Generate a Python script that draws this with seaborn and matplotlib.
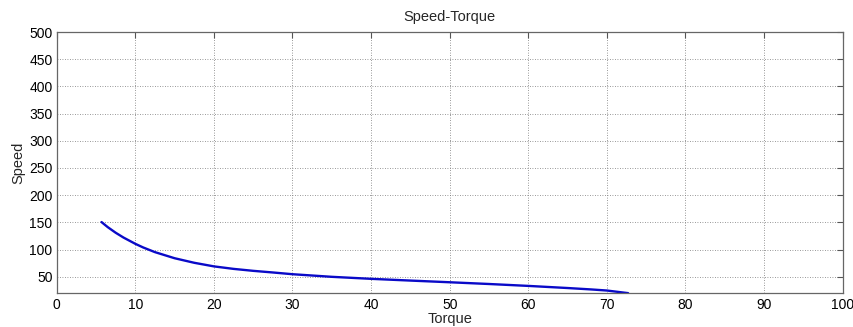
import matplotlib
matplotlib.use("Agg")
import matplotlib.pyplot as plt
import seaborn as sns
import pandas as pd

torque = [5.7, 6.5, 7.5, 8.5, 10, 11, 12.5, 15, 17.5, 20, 22.5, 25, 27.5, 30,
          35, 40, 45, 50, 55, 60, 65, 68, 70, 72.7]
speed = [150.5, 141.1, 130.9, 122.0, 110.5, 103.8, 95.2, 84.0, 75.6, 69.0, 64.4, 60.8,
         57.8, 54.6, 49.8, 46.1, 42.9, 39.8, 36.6, 33.1, 29.2, 26.6, 24.6, 19.8]
x_ticks = [0, 10, 20, 30, 40, 50, 60, 70, 80, 90, 100]
y_ticks = [50, 100, 150, 200, 250, 300, 350, 400, 450, 500]

sns.set_theme(style="white")
plt.rcParams['font.family'] = ['Liberation Sans', 'DejaVu Sans']

df = pd.DataFrame({"Torque": torque, "Speed": speed})

fig = plt.figure(figsize=(8.54, 3.27), dpi=100)
ax = fig.add_axes([56.7/854, 1 - 293.3/327, (842.7-56.7)/854, (293.3-32)/327])
sns.lineplot(data=df, x="Torque", y="Speed", ax=ax, color="#0a0ac8", linewidth=1.7,
             sort=False)
ax.lines[0].set_solid_joinstyle('round')

ax.set_xlim(0, 100)
ax.set_ylim(19.5, 500)
ax.set_xticks(x_ticks)
ax.set_yticks(y_ticks)
ax.tick_params(axis='both', direction='in', length=4, width=0.8, color='#555555',
               labelsize=10, labelcolor='black', top=True, right=True, pad=3)
ax.tick_params(axis='x', pad=3.5)
ax.grid(True, linestyle=(0, (1, 2)), color='#777777', linewidth=0.6)
for s in ax.spines.values():
    s.set_color('#666666')
    s.set_linewidth(0.9)
ax.set_xlabel("Torque", fontsize=10.5, labelpad=0)
ax.set_ylabel("Speed", fontsize=10.5, labelpad=3)
ax.set_title("Speed-Torque", fontsize=10.5, pad=8)

fig.savefig("out.png", dpi=100)
